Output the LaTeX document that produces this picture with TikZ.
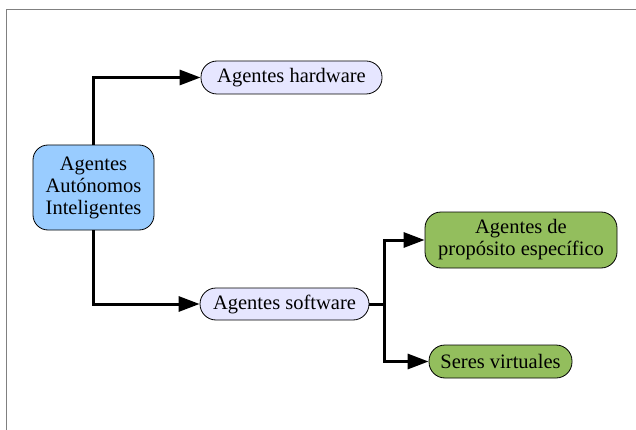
\documentclass[tikz,border=0pt]{standalone}
\usepackage{fontspec}
\setmainfont{Liberation Serif}
\usetikzlibrary{arrows.meta}
\definecolor{hubblue}{HTML}{99CCFF}
\definecolor{lav}{HTML}{E6E6FF}
\definecolor{grn}{HTML}{93BE5D}
\begin{document}
\begin{tikzpicture}[x=1pt,y=-1pt,
  every node/.style={font=\fontsize{20.5}{22}\selectfont, align=center, inner sep=0pt, draw=black, line width=0.8pt},
  hubbox/.style={fill=hubblue, rounded corners=15pt},
  lavbox/.style={fill=lav, rounded corners=16pt},
  grnbox/.style={fill=grn, rounded corners=16pt},
  conn/.style={line width=3pt, -{Triangle[length=21pt,width=15pt]}}]
\useasboundingbox (0,0) rectangle (636,430);
\draw[line width=1.2pt, draw=gray] (6.5,430) -- (6.5,9.5) -- (636,9.5);
\node[hubbox, minimum width=121pt, minimum height=85pt] (hub) at (93.5,187.5) {Agentes\\Autónomos\\Inteligentes};
\node[lavbox, minimum width=181pt, minimum height=33pt] (hw) at (291.5,77.5) {Agentes hardware};
\node[lavbox, minimum width=169pt, minimum height=32pt] (sw) at (284.5,304) {Agentes software};
\node[grnbox, minimum width=192pt, minimum height=56pt] (pe) at (521,240) {Agentes de\\propósito específico};
\node[grnbox, minimum width=143pt, minimum height=33pt] (sv) at (500.5,361.5) {Seres virtuales};
\coordinate (j) at (384,304);
\draw[conn] (hub.north) |- (hw.west);
\draw[conn] (hub.south) |- (sw.west);
\draw[line width=3pt] (sw.east) -- (j);
\draw[conn] (j) |- (pe.west);
\draw[conn] (j) |- (sv.west);
\end{tikzpicture}
\end{document}
